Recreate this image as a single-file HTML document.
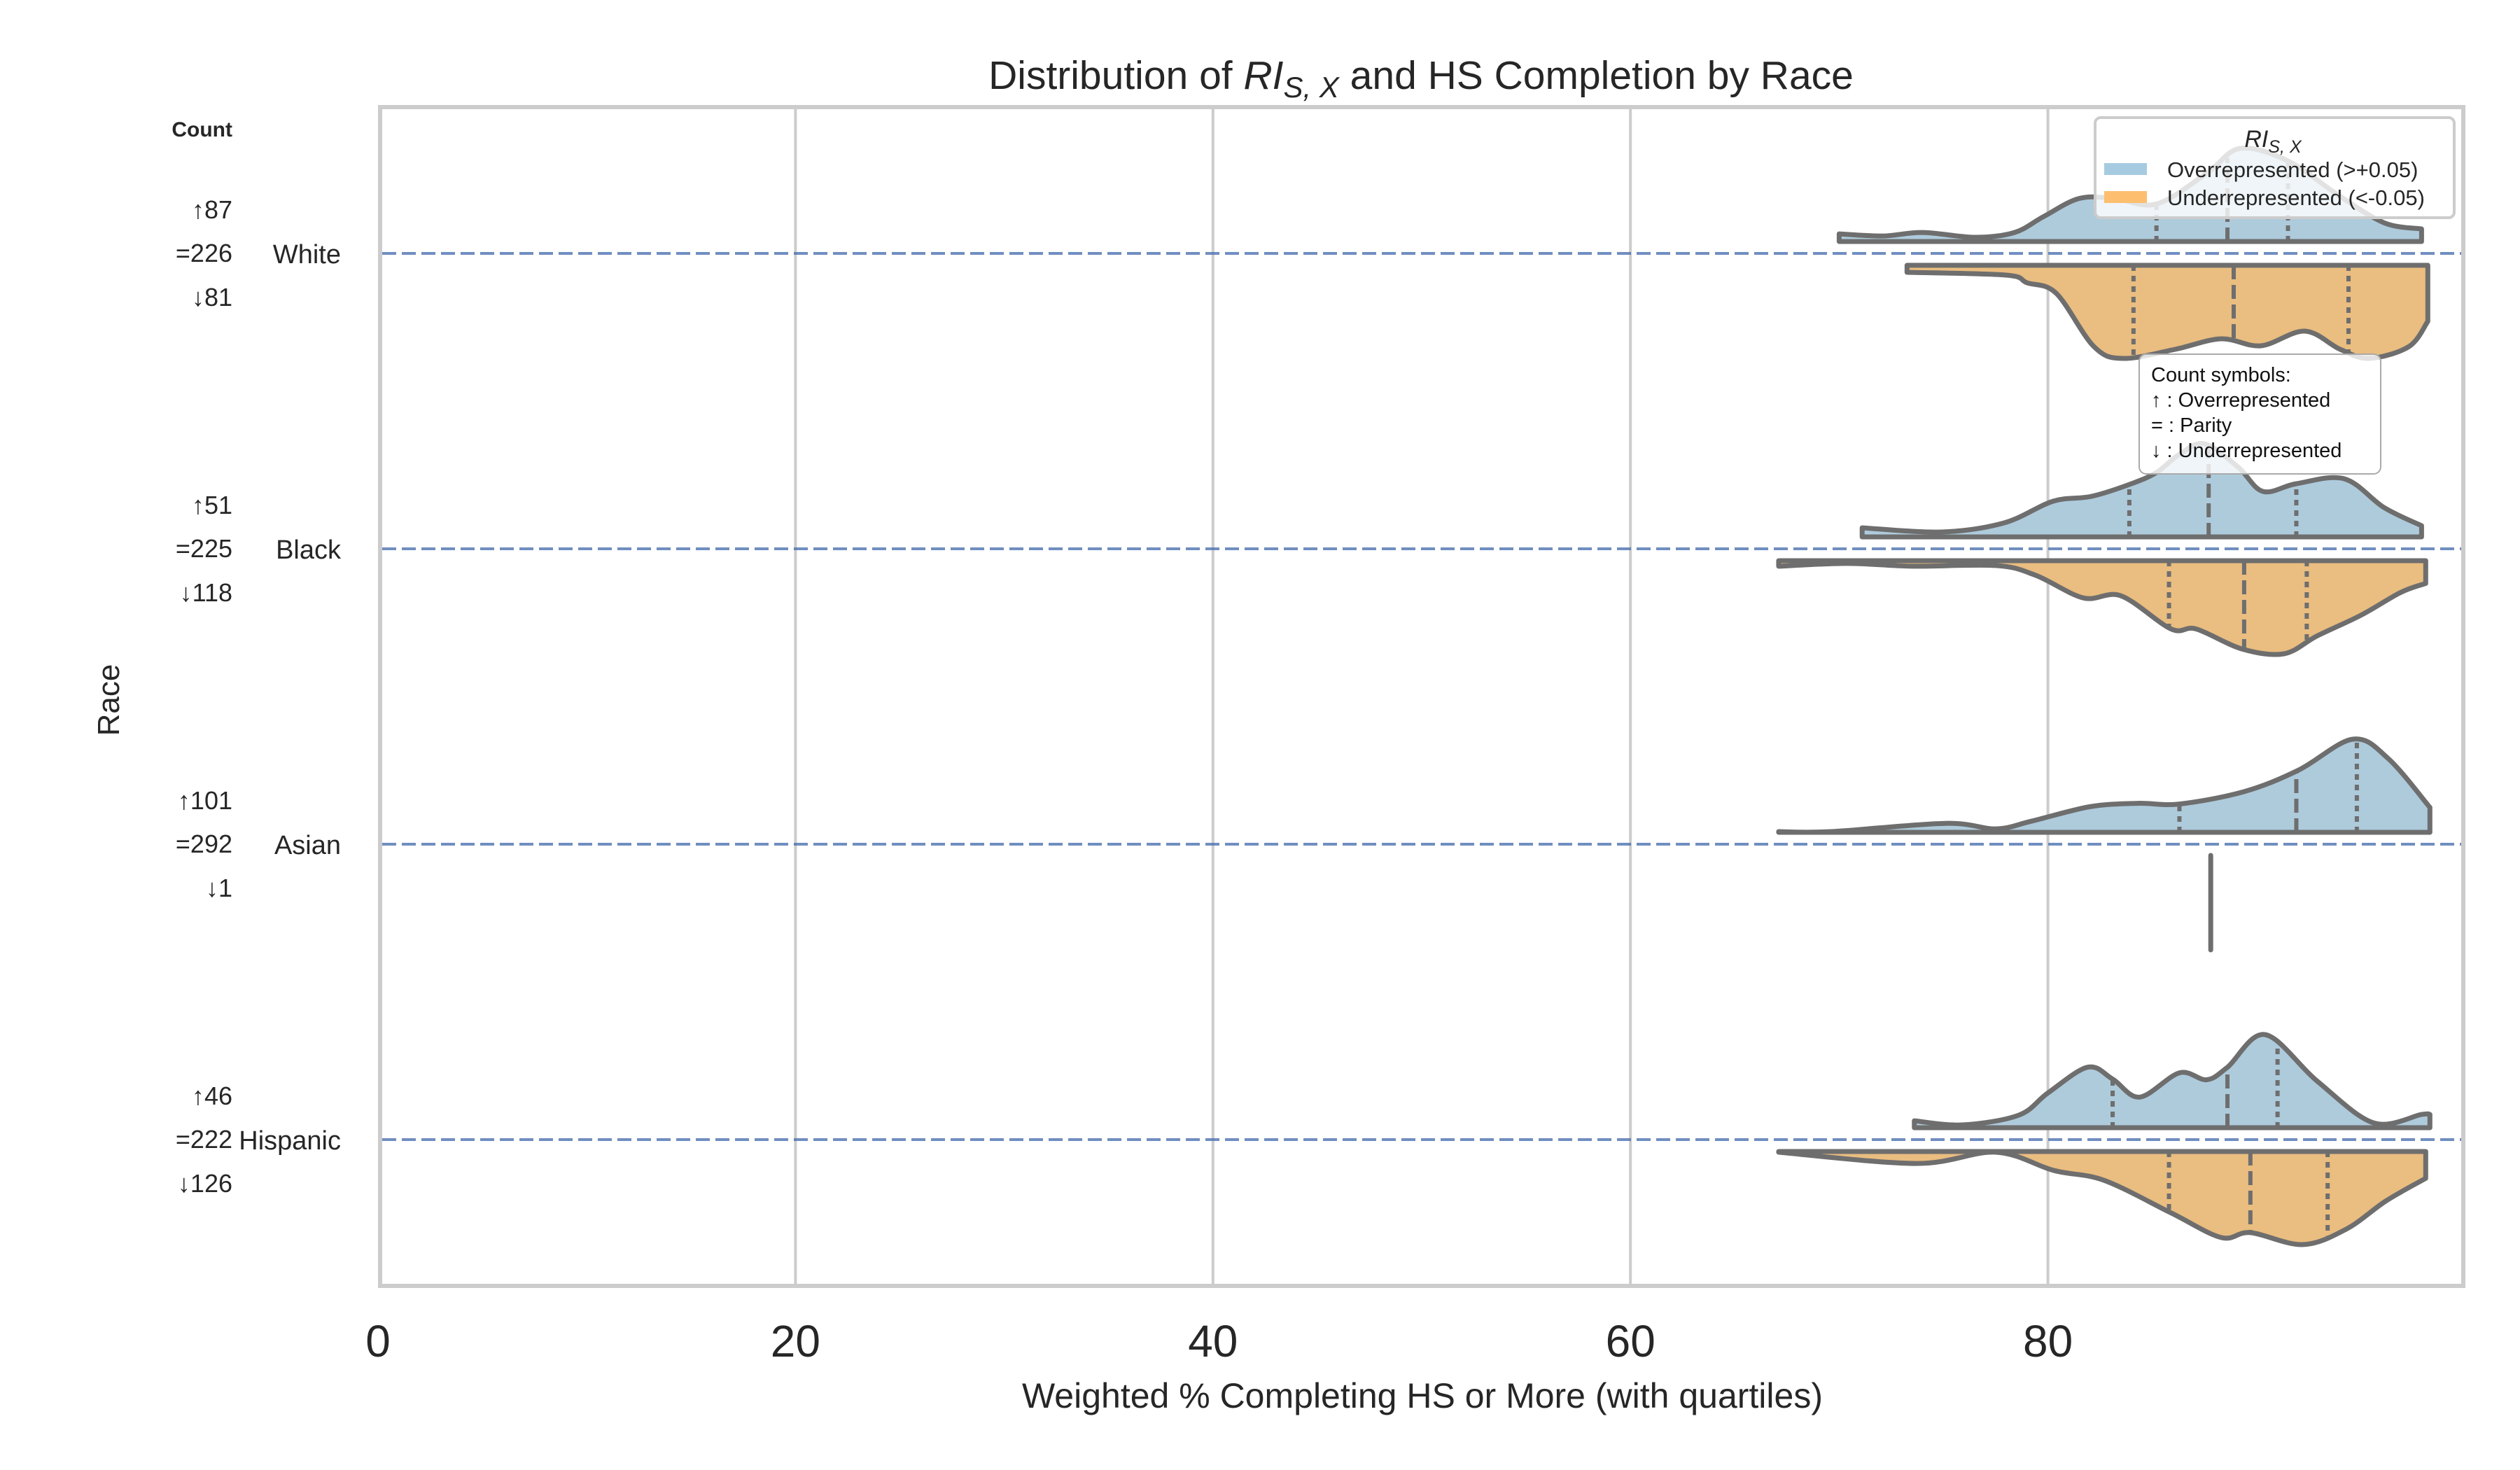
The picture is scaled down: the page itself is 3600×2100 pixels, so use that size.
<!DOCTYPE html>
<html><head><meta charset="utf-8"><style>
html,body{margin:0;padding:0;background:#fff;}
svg{display:block;font-family:"Liberation Sans",sans-serif;}
</style></head><body>
<svg id="chart" width="3600" height="2100" viewBox="0 0 3600 2100" xmlns="http://www.w3.org/2000/svg">
  <rect x="0" y="0" width="3600" height="2100" fill="#fff"/>
  <g id="grid"></g>
  <g id="catlines"></g>
  <g id="violins"></g>
  <rect x="543" y="153" width="2976" height="1684" fill="none" stroke="#cccccc" stroke-width="6"/>
  <g id="xticks" font-size="64" fill="#262626" text-anchor="middle"></g>
  <g id="ylabels" fill="#262626"></g>
  <text x="2030" y="127" font-size="57" fill="#262626" text-anchor="middle">Distribution of <tspan font-style="italic">RI</tspan><tspan font-style="italic" font-size="42" dy="12">S, X</tspan><tspan dy="-12"> and HS Completion by Race</tspan></text>
  <text x="2032" y="2011" font-size="50" fill="#262626" text-anchor="middle">Weighted % Completing HS or More (with quartiles)</text>
  <text transform="translate(170,1000) rotate(-90)" font-size="44" fill="#262626" text-anchor="middle">Race</text>
  <text x="332" y="195" font-size="30" font-weight="bold" fill="#262626" text-anchor="end">Count</text>
  <g>
    <rect x="2993" y="168" width="513" height="143" rx="8" fill="#fff" fill-opacity="0.8" stroke="#cccccc" stroke-width="4"/>
    <text x="3247" y="210" font-size="34" font-style="italic" fill="#262626" text-anchor="middle">RI<tspan font-size="25" dy="8">S, X</tspan></text>
    <rect x="3006" y="233" width="61" height="17" fill="#a6cbe1"/>
    <text x="3096" y="253" font-size="31" fill="#262626">Overrepresented (&gt;+0.05)</text>
    <rect x="3006" y="273" width="61" height="17" fill="#fdbf6f"/>
    <text x="3096" y="293" font-size="31" fill="#262626">Underrepresented (&lt;-0.05)</text>
  </g>
  <g>
    <rect x="3056" y="506" width="345" height="171" rx="10" fill="#fff" fill-opacity="0.8" stroke="#aaaaaa" stroke-width="2"/>
    <text font-size="29" fill="#111">
      <tspan x="3073" y="545">Count symbols:</tspan>
      <tspan x="3073" y="581">↑ : Overrepresented</tspan>
      <tspan x="3073" y="617">= : Parity</tspan>
      <tspan x="3073" y="653">↓ : Underrepresented</tspan>
    </text>
  </g>
</svg>
<script>
const categories = ["White", "Black", "Asian", "Hispanic"];
const countsUp = [87, 51, 101, 46];
const countsEq = [226, 225, 292, 222];
const countsDown = [81, 118, 1, 126];
const xTicks = [0, 20, 40, 60, 80];

const whiteOverX = [70.0,72.1,74.0,76.5,78.4,79.8,81.5,83.2,85.2,87.6,89.2,91.5,93.9,96.1,97.9];
const whiteOverD = [11,8,13,6,13,36,62,62,54,98,134,116,67,27,18];
const whiteOverQ = [85.2,88.6,91.5];
const whiteUnderX = [73.25,78.0,79.0,80.4,82.2,83.6,86.1,88.3,90.2,92.3,94.0,95.4,97.3,98.2];
const whiteUnderD = [10,14,25,40,116,133,120,105,115,94,120,133,116,80];
const whiteUnderQ = [84.1,88.9,94.4];
const blackOverX = [71.1,74.9,77.9,80.25,82.1,84.0,85.2,86.3,87.5,89.1,90.3,91.9,94.2,96.1,97.9];
const blackOverD = [13,7,20,51,58,76,92,118,133,100,65,76,83,42,16];
const blackOverQ = [83.9,87.7,91.9];
const blackUnderX = [67.1,70.4,73.5,77.5,79.4,81.7,83.5,85.9,87.1,89.3,91.3,92.9,95.0,96.9,98.1];
const blackUnderD = [8,4,8,7,21,54,51,99,99,128,135,109,79,46,33];
const blackUnderQ = [85.8,89.4,92.4];
const asianOverX = [67.1,69.6,75.1,77.5,79.2,82.0,84.3,86.3,89.4,92.0,94.6,96.3,98.3];
const asianOverD = [1,1,13,5,16,37,42,41,59,90,135,107,36];
const asianOverQ = [86.3,91.9,94.8];
const asianUnderX = [87.8];
const hispOverX = [73.6,75.9,78.6,80.0,81.9,83.1,84.4,86.3,87.6,88.6,90.4,92.9,95.6,97.9,98.3];
const hispOverD = [10,4,18,50,87,70,44,79,69,87,134,67,7,19,19];
const hispOverQ = [83.1,88.6,91.0];
const hispUnderX = [67.1,73.7,77.5,80.3,82.7,85.9,88.3,89.7,92.2,94.3,96.2,98.1];
const hispUnderD = [1,17,1,27,41,87,122,115,132,110,70,38];
const hispUnderQ = [85.8,89.7,93.4];

const NS = "http://www.w3.org/2000/svg";
const X0 = 540, XW = 2982, Y0 = 362, YSTEP = 422, GAP = 17, MAXW = 133;
const xs = v => X0 + v / 100 * XW;
const ys = i => Y0 + i * YSTEP;
function mk(tag, attrs, parent) {
  const e = document.createElementNS(NS, tag);
  for (const k in attrs) e.setAttribute(k, attrs[k]);
  parent.appendChild(e);
  return e;
}
const grid = document.getElementById("grid");
xTicks.forEach((t, i) => {
  if (t === 0) return;
  const l = mk("line", {x1: xs(t), x2: xs(t), y1: 153, y2: 1837, stroke: "#cccccc", "stroke-width": 4}, grid);
  
  
});
const xt = document.getElementById("xticks");
xTicks.forEach(t => {
  const e = mk("text", {x: xs(t), y: 1938}, xt);
  e.textContent = t;
  
  
});
const cl = document.getElementById("catlines");
const yl = document.getElementById("ylabels");
categories.forEach((c, i) => {
  const y = ys(i);
  const l = mk("line", {x1: 546, x2: 3516, y1: y, y2: y, stroke: "#4c72b0", "stroke-opacity": 0.8, "stroke-width": 4, "stroke-dasharray": "20 8"}, cl);
  
  
  const t = mk("text", {x: 487, y: y + 14, "font-size": 38, "text-anchor": "end"}, yl);
  t.textContent = c;
  
  
  const rows = [["↑" + countsUp[i], -64], ["=" + countsEq[i], -2], ["↓" + countsDown[i], 61]];
  rows.forEach(r => {
    const e = mk("text", {x: 332, y: y + r[1] + 14, "font-size": 36, "text-anchor": "end"}, yl);
    e.textContent = r[0];
    
    
  });
});

function smoothPath(pts) {
  let d = "";
  for (let i = 0; i < pts.length - 1; i++) {
    const p0 = pts[Math.max(0, i - 1)], p1 = pts[i], p2 = pts[i + 1], p3 = pts[Math.min(pts.length - 1, i + 2)];
    const c1 = [p1[0] + (p2[0] - p0[0]) / 6, p1[1] + (p2[1] - p0[1]) / 6];
    const c2 = [p2[0] - (p3[0] - p1[0]) / 6, p2[1] - (p3[1] - p1[1]) / 6];
    d += " C" + c1[0].toFixed(1) + "," + c1[1].toFixed(1) + " " + c2[0].toFixed(1) + "," + c2[1].toFixed(1) + " " + p2[0].toFixed(1) + "," + p2[1].toFixed(1);
  }
  return d;
}
function interp(xv, dv, v) {
  for (let i = 0; i < xv.length - 1; i++) {
    if (v >= xv[i] && v <= xv[i + 1]) return dv[i] + (dv[i + 1] - dv[i]) * (v - xv[i]) / (xv[i + 1] - xv[i]);
  }
  return 0;
}
const vg = document.getElementById("violins");
function half(idx, xv, dv, q, dir, fill, name) {
  const base = ys(idx) + dir * GAP;
  const mx = Math.max(...dv);
  const sc = MAXW / mx;
  const pts = xv.map((v, i) => [xs(v), base + dir * dv[i] * sc]);
  const d = "M" + xs(xv[0]) + "," + base + " L" + pts[0][0] + "," + pts[0][1] + smoothPath(pts) +
            " L" + xs(xv[xv.length - 1]) + "," + base + " Z";
  const p = mk("path", {d: d, fill: fill, stroke: "#6e6e6e", "stroke-width": 7, "stroke-linejoin": "round"}, vg);
  
  
  q.forEach((qv, j) => {
    const h = interp(xv, dv, qv) * sc;
    const l = mk("line", {x1: xs(qv), x2: xs(qv), y1: base, y2: base + dir * h, stroke: "#6e6e6e", "stroke-width": 6,
      "stroke-dasharray": j === 1 ? "20 8" : "8 7"}, vg);
    
    
  });
}
const BLUE = "#aecbdc", ORANGE = "#eabd80";
half(0, whiteOverX, whiteOverD, whiteOverQ, -1, BLUE, "violin-white-over");
half(0, whiteUnderX, whiteUnderD, whiteUnderQ, 1, ORANGE, "violin-white-under");
half(1, blackOverX, blackOverD, blackOverQ, -1, BLUE, "violin-black-over");
half(1, blackUnderX, blackUnderD, blackUnderQ, 1, ORANGE, "violin-black-under");
half(2, asianOverX, asianOverD, asianOverQ, -1, BLUE, "violin-asian-over");
asianUnderX.forEach(v => {
  const l = mk("line", {x1: xs(v), x2: xs(v), y1: ys(2) + 16, y2: ys(2) + 151, stroke: "#6e6e6e", "stroke-width": 7, "stroke-linecap": "round"}, vg);
  
  
});
half(3, hispOverX, hispOverD, hispOverQ, -1, BLUE, "violin-hispanic-over");
half(3, hispUnderX, hispUnderD, hispUnderQ, 1, ORANGE, "violin-hispanic-under");
</script>
</body></html>
